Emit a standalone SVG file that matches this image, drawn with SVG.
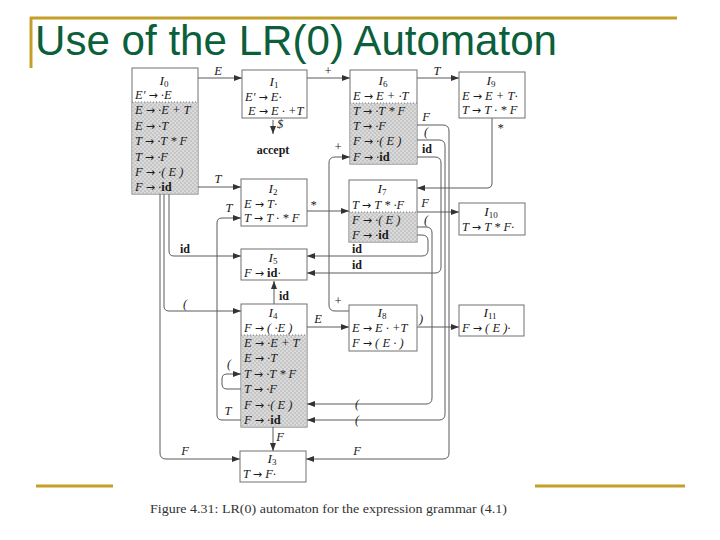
<svg xmlns="http://www.w3.org/2000/svg" width="720" height="540" viewBox="0 0 720 540">
<defs>
<pattern id="chk" width="4" height="4" patternUnits="userSpaceOnUse">
<rect width="4" height="4" fill="#c6c6c6"/>
<rect width="2" height="2" fill="#dadada"/>
<rect x="2" y="2" width="2" height="2" fill="#dadada"/>
</pattern>
<marker id="ah" markerWidth="8" markerHeight="6" refX="8" refY="3" orient="auto" markerUnits="userSpaceOnUse">
<path d="M0,0 L8,3 L0,6 z" fill="#333"/>
</marker>
</defs>
<style>
.box{fill:#fff;stroke:#707070;stroke-width:1}
.sh{fill:url(#chk);stroke:none}
.sep{stroke:#777;stroke-width:1;stroke-dasharray:1,2}
.t{font-family:"Liberation Serif",serif;font-size:12.5px;font-style:italic;fill:#1a1a1a}
.ar{font-family:"DejaVu Sans",sans-serif;font-style:normal;font-size:11px}
.h{font-family:"Liberation Serif",serif;font-size:13.5px;font-style:italic;fill:#1a1a1a}
.sub{font-size:9px;font-style:normal}
.b{font-weight:bold;font-style:normal}
.c{fill:none;stroke:#5a5a5a;stroke-width:1;marker-end:url(#ah)}
.l{font-family:"Liberation Serif",serif;font-size:12.5px;font-style:italic;fill:#1a1a1a;text-anchor:middle}
.lb{font-family:"Liberation Serif",serif;font-size:12px;font-weight:bold;fill:#1a1a1a;text-anchor:middle}
.gold{stroke:#c4a02a;stroke-width:3}
</style>
<rect width="720" height="540" fill="#fff"/>
<line class="gold" x1="30" y1="18" x2="677" y2="18"/>
<line class="gold" x1="31" y1="17" x2="31" y2="68"/>
<line class="gold" x1="36" y1="486" x2="113" y2="486"/>
<line class="gold" x1="535" y1="486" x2="685" y2="486"/>
<text x="35" y="55" font-family="Liberation Sans, Arial, sans-serif" font-size="42" fill="#0b5f3a" textLength="522" lengthAdjust="spacingAndGlyphs">Use of the LR(0) Automaton</text>

<g id="connectors">
<path class="c" d="M198,78 H242"/>
<path class="c" d="M307,78 H350"/>
<path class="c" d="M417,78 H459"/>
<path class="c" d="M273,120 V134"/>
<path class="c" d="M198,187 H241"/>
<path class="c" d="M307,211 H349"/>
<path class="c" d="M492,118 V183 Q492,188 487,188 H417"/>
<path class="c" d="M417,212 H459"/>
<path class="c" d="M169,194 V251 Q169,256 174,256 H241"/>
<path class="c" d="M164,194 V306 Q164,311 169,311 H241"/>
<path class="c" d="M160,194 V453 Q160,459 166,459 H240"/>
<path class="c" d="M241,420 H222 Q217,420 217,415 V223 Q217,218 222,218 H241"/>
<path class="c" d="M241,389 H227 Q222,389 222,384 V379 Q222,374 227,374 H241"/>
<path class="c" d="M274,304 V281"/>
<path class="c" d="M307,327 H349"/>
<path class="c" d="M273,427 V451"/>
<path class="c" d="M349,311 H335 Q329,311 329,305 V163 Q329,157 335,157 H350"/>
<path class="c" d="M417,327 H459"/>
<path class="c" d="M417,125 H443 Q449,125 449,131 V453 Q449,459 443,459 H306"/>
<path class="c" d="M417,140 H439 Q445,140 445,146 V414 Q445,420 439,420 H307"/>
<path class="c" d="M417,157 H435 Q441,157 441,163 V267 Q441,273 435,273 H307"/>
<path class="c" d="M417,227 H426 Q432,227 432,233 V398 Q432,404 426,404 H307"/>
<path class="c" d="M417,235 H422 Q428,235 428,241 V250 Q428,256 422,256 H307"/>
<text class="l" x="218" y="75">E</text>
<text class="l" x="328" y="75" font-style="normal">+</text>
<text class="l" x="437" y="75">T</text>
<text class="l" x="280" y="128" font-style="normal" font-size="11">$</text>
<text class="lb" x="273" y="154">accept</text>
<text class="l" x="218" y="183">T</text>
<text class="l" x="313" y="209" font-style="normal">*</text>
<text class="l" x="500" y="132" font-style="normal">*</text>
<text class="l" x="425" y="207">F</text>
<text class="lb" x="185" y="253">id</text>
<text class="l" x="185" y="308" font-style="normal">(</text>
<text class="l" x="185" y="455">F</text>
<text class="l" x="229" y="212">T</text>
<text class="l" x="228" y="415">T</text>
<text class="l" x="229" y="368" font-style="normal">(</text>
<text class="lb" x="284" y="300">id</text>
<text class="l" x="318" y="323">E</text>
<text class="l" x="280" y="441">F</text>
<text class="l" x="338" y="151" font-style="normal">+</text>
<text class="l" x="338" y="305" font-style="normal">+</text>
<text class="l" x="421" y="323" font-style="normal">)</text>
<text class="l" x="426" y="121">F</text>
<text class="l" x="357" y="455">F</text>
<text class="l" x="426" y="136" font-style="normal">(</text>
<text class="l" x="357" y="424" font-style="normal" fill="#777">(</text>
<text class="lb" x="427" y="153">id</text>
<text class="lb" x="357" y="269">id</text>
<text class="l" x="426" y="224" font-style="normal">(</text>
<text class="l" x="357" y="408" font-style="normal" fill="#777">(</text>
<text class="lb" x="357" y="253">id</text>
</g>

<g id="I0">
<rect class="box" x="132" y="68" width="66" height="126"/>
<rect class="sh" x="132.5" y="102" width="65" height="91.5"/>
<line class="sep" x1="132" y1="102" x2="198" y2="102"/>
<text class="h" x="164" y="85" text-anchor="middle">I<tspan class="sub" dy="2">0</tspan></text>
<text class="t" x="135" y="99">E′ <tspan class="ar">→</tspan> ·E</text>
<text class="t" x="135" y="114">E <tspan class="ar">→</tspan> ·E + T</text>
<text class="t" x="135" y="130">E <tspan class="ar">→</tspan> ·T</text>
<text class="t" x="135" y="145">T <tspan class="ar">→</tspan> ·T * F</text>
<text class="t" x="135" y="161">T <tspan class="ar">→</tspan> ·F</text>
<text class="t" x="135" y="176">F <tspan class="ar">→</tspan> ·( E )</text>
<text class="t" x="135" y="191">F <tspan class="ar">→</tspan> ·<tspan class="b">id</tspan></text>
</g>

<g id="I1">
<rect class="box" x="242" y="70" width="65" height="48"/>
<text class="h" x="274" y="86" text-anchor="middle">I<tspan class="sub" dy="2">1</tspan></text>
<text class="t" x="245" y="101">E′ <tspan class="ar">→</tspan> E·</text>
<text class="t" x="248" y="115">E <tspan class="ar">→</tspan> E · +T</text>
</g>

<g id="I6">
<rect class="box" x="350" y="70" width="67" height="94"/>
<rect class="sh" x="350.5" y="103" width="66" height="60.5"/>
<line class="sep" x1="350" y1="103" x2="417" y2="103"/>
<text class="h" x="383" y="85" text-anchor="middle">I<tspan class="sub" dy="2">6</tspan></text>
<text class="t" x="353" y="100">E <tspan class="ar">→</tspan> E + ·T</text>
<text class="t" x="353" y="115">T <tspan class="ar">→</tspan> ·T * F</text>
<text class="t" x="353" y="130">T <tspan class="ar">→</tspan> ·F</text>
<text class="t" x="353" y="145">F <tspan class="ar">→</tspan> ·( E )</text>
<text class="t" x="353" y="161">F <tspan class="ar">→</tspan> ·<tspan class="b">id</tspan></text>
</g>

<g id="I9">
<rect class="box" x="459" y="72" width="66" height="46"/>
<text class="h" x="491" y="85" text-anchor="middle">I<tspan class="sub" dy="2">9</tspan></text>
<text class="t" x="462" y="100">E <tspan class="ar">→</tspan> E + T·</text>
<text class="t" x="462" y="114">T <tspan class="ar">→</tspan> T · * F</text>
</g>

<g id="I2">
<rect class="box" x="241" y="179" width="66" height="47"/>
<text class="h" x="273" y="193" text-anchor="middle">I<tspan class="sub" dy="2">2</tspan></text>
<text class="t" x="244" y="208">E <tspan class="ar">→</tspan> T·</text>
<text class="t" x="244" y="222">T <tspan class="ar">→</tspan> T · * F</text>
</g>

<g id="I7">
<rect class="box" x="349" y="180" width="68" height="62"/>
<rect class="sh" x="349.5" y="212" width="67" height="29.5"/>
<line class="sep" x1="349" y1="212" x2="417" y2="212"/>
<text class="h" x="382" y="193" text-anchor="middle">I<tspan class="sub" dy="2">7</tspan></text>
<text class="t" x="352" y="209">T <tspan class="ar">→</tspan> T * ·F</text>
<text class="t" x="352" y="224">F <tspan class="ar">→</tspan> ·( E )</text>
<text class="t" x="352" y="239">F <tspan class="ar">→</tspan> ·<tspan class="b">id</tspan></text>
</g>

<g id="I10">
<rect class="box" x="459" y="203" width="66" height="32"/>
<text class="h" x="491" y="216" text-anchor="middle">I<tspan class="sub" dy="2">10</tspan></text>
<text class="t" x="462" y="231">T <tspan class="ar">→</tspan> T * F·</text>
</g>

<g id="I5">
<rect class="box" x="241" y="249" width="66" height="31"/>
<text class="h" x="273" y="262" text-anchor="middle">I<tspan class="sub" dy="2">5</tspan></text>
<text class="t" x="244" y="277">F <tspan class="ar">→</tspan> <tspan class="b">id</tspan>·</text>
</g>

<g id="I4">
<rect class="box" x="241" y="304" width="66" height="123"/>
<rect class="sh" x="241.5" y="335" width="65" height="91.5"/>
<line class="sep" x1="241" y1="335" x2="307" y2="335"/>
<text class="h" x="273" y="317" text-anchor="middle">I<tspan class="sub" dy="2">4</tspan></text>
<text class="t" x="244" y="332">F <tspan class="ar">→</tspan> ( ·E )</text>
<text class="t" x="244" y="347">E <tspan class="ar">→</tspan> ·E + T</text>
<text class="t" x="244" y="362">E <tspan class="ar">→</tspan> ·T</text>
<text class="t" x="244" y="378">T <tspan class="ar">→</tspan> ·T * F</text>
<text class="t" x="244" y="393">T <tspan class="ar">→</tspan> ·F</text>
<text class="t" x="244" y="409">F <tspan class="ar">→</tspan> ·( E )</text>
<text class="t" x="244" y="424">F <tspan class="ar">→</tspan> ·<tspan class="b">id</tspan></text>
</g>

<g id="I8">
<rect class="box" x="349" y="305" width="68" height="46"/>
<text class="h" x="382" y="317" text-anchor="middle">I<tspan class="sub" dy="2">8</tspan></text>
<text class="t" x="352" y="332">E <tspan class="ar">→</tspan> E · +T</text>
<text class="t" x="352" y="347">F <tspan class="ar">→</tspan> ( E · )</text>
</g>

<g id="I11">
<rect class="box" x="459" y="305" width="65" height="31"/>
<text class="h" x="490" y="317" text-anchor="middle">I<tspan class="sub" dy="2">11</tspan></text>
<text class="t" x="462" y="332">F <tspan class="ar">→</tspan> ( E )·</text>
</g>

<g id="I3">
<rect class="box" x="240" y="451" width="66" height="31"/>
<text class="h" x="272" y="463" text-anchor="middle">I<tspan class="sub" dy="2">3</tspan></text>
<text class="t" x="243" y="478">T <tspan class="ar">→</tspan> F·</text>
</g>

<text x="150" y="513" font-family="Liberation Serif, serif" font-size="12" fill="#333" textLength="357" lengthAdjust="spacingAndGlyphs">Figure 4.31: LR(0) automaton for the expression grammar (4.1)</text>
</svg>
